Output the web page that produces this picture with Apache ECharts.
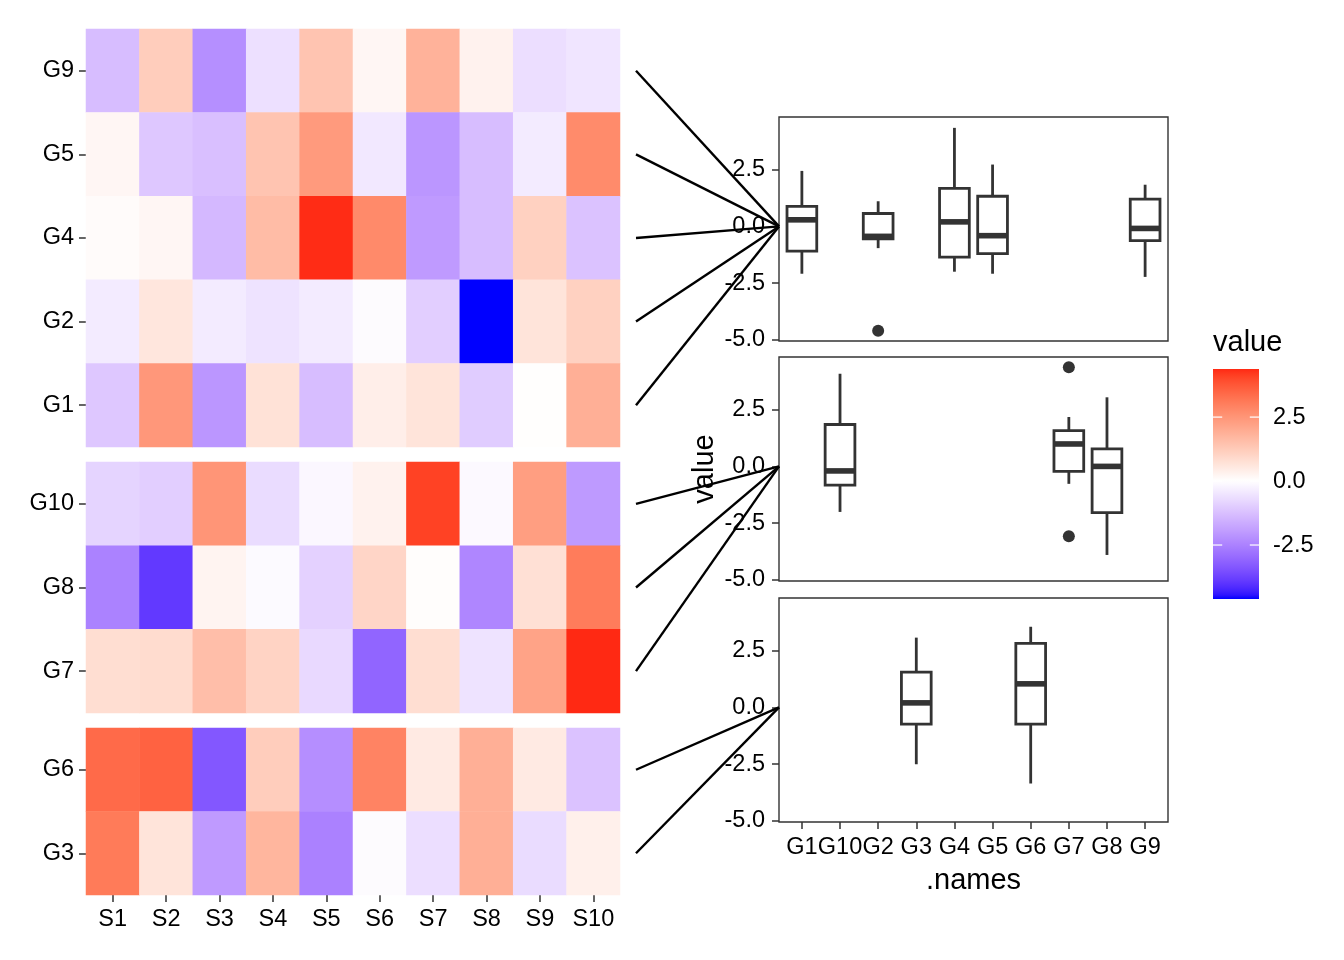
<!DOCTYPE html>
<html><head><meta charset="utf-8">
<script src="https://cdn.jsdelivr.net/npm/echarts@6/dist/echarts.min.js"></script>
<style>html,body{margin:0;padding:0;background:#fff}#c{width:1344px;height:960px}</style>
</head><body><div id="c"></div>
<script>
// ---------- data ----------
const samples = ['S1','S2','S3','S4','S5','S6','S7','S8','S9','S10'];
const group1 = ['G9','G5','G4','G2','G1'];
const group2 = ['G10','G8','G7'];
const group3 = ['G6','G3'];
const rowG9  = [-1.3, 1.2, -2.23, -0.6, 1.4, 0.2, 1.84, 0.3, -0.65, -0.5];
const rowG5  = [0.2, -1.1, -1.25, 1.4, 2.4, -0.45, -2.09, -1.3, -0.4, 2.73];
const rowG4  = [0.1, 0.2, -1.4, 1.6, 4.35, 2.75, -2.0, -1.3, 1.1, -1.2];
const rowG2  = [-0.4, 0.6, -0.4, -0.55, -0.4, -0.05, -0.96, -4.61, 0.65, 1.1];
const rowG1  = [-1.1, 2.45, -2.09, 0.7, -1.3, 0.4, 0.65, -1.0, 0.02, 1.9];
const rowG10 = [-0.85, -0.95, 2.5, -0.7, -0.15, 0.3, 4.09, -0.12, 2.3, -2.01];
const rowG8  = [-2.5, -3.91, 0.25, -0.1, -0.9, 1.0, 0.05, -2.4, 0.75, 3.05];
const rowG7  = [0.8, 0.85, 1.55, 1.05, -0.75, -3.08, 0.8, -0.55, 2.18, 4.38];
const rowG6  = [3.4, 3.56, -3.36, 1.2, -2.25, 2.9, 0.5, 1.9, 0.5, -1.2];
const rowG3  = [3.08, 0.65, -2.0, 1.75, -2.51, -0.05, -0.65, 1.9, -0.7, 0.35];

const boxNames = ['G1','G10','G2','G3','G4','G5','G6','G7','G8','G9'];
// [lower whisker, Q1, median, Q3, upper whisker]
const boxG1  = [-2.09, -1.09, 0.29, 0.88, 2.45];
const boxG2  = [-0.96, -0.55, -0.44, 0.57, 1.11];
const boxG4  = [-2.0, -1.36, 0.2, 1.68, 4.35];
const boxG5  = [-2.09, -1.2, -0.41, 1.33, 2.73];
const boxG9  = [-2.23, -0.63, -0.09, 1.2, 1.84];
const boxG10 = [-2.01, -0.83, -0.2, 1.85, 4.09];
const boxG7  = [-0.77, -0.22, 0.99, 1.58, 2.18];
const boxG8  = [-3.91, -2.04, 0.0, 0.77, 3.05];
const boxG3  = [-2.51, -0.74, 0.2, 1.56, 3.08];
const boxG6  = [-3.36, -0.74, 1.04, 2.83, 3.56];
const outliersG2 = [-4.61];
const outliersG7 = [4.38, -3.08];

const boxTicks = [-5, -2.5, 0, 2.5];
const legendTicks = [-2.5, 0, 2.5];

// ---------- lookup tables built from the arrays ----------
const rows = {G1:rowG1,G2:rowG2,G3:rowG3,G4:rowG4,G5:rowG5,G6:rowG6,G7:rowG7,G8:rowG8,G9:rowG9,G10:rowG10};
const boxes = {G1:boxG1,G2:boxG2,G3:boxG3,G4:boxG4,G5:boxG5,G6:boxG6,G7:boxG7,G8:boxG8,G9:boxG9,G10:boxG10};
const outliers = {G2:outliersG2, G7:outliersG7};
const groups = [group1, group2, group3];

const allVals = [].concat(...Object.values(rows));
const dataMin = Math.min(...allVals), dataMax = Math.max(...allVals);
const pad = 0.05 * (dataMax - dataMin);
const yMin = dataMin - pad, yMax = dataMax + pad;
const lim = Math.max(Math.abs(dataMin), Math.abs(dataMax));

// ---------- colour: diverging gradient interpolated in CIELAB ----------
function s2l(c){c/=255;return c<=0.04045?c/12.92:Math.pow((c+0.055)/1.055,2.4);}
function l2s(c){c=c<=0.0031308?12.92*c:1.055*Math.pow(c,1/2.4)-0.055;return Math.round(Math.max(0,Math.min(1,c))*255);}
function rgbToLab(rgb){
  const R=s2l(rgb[0]),G=s2l(rgb[1]),B=s2l(rgb[2]);
  const X=(0.4124564*R+0.3575761*G+0.1804375*B)/0.95047;
  const Y=(0.2126729*R+0.7151522*G+0.0721750*B);
  const Z=(0.0193339*R+0.1191920*G+0.9503041*B)/1.08883;
  const f=t=>t>0.008856?Math.cbrt(t):7.787*t+16/116;
  const fx=f(X),fy=f(Y),fz=f(Z);
  return [116*fy-16,500*(fx-fy),200*(fy-fz)];
}
function labToRgb(lab){
  const fy=(lab[0]+16)/116, fx=fy+lab[1]/500, fz=fy-lab[2]/200;
  const fi=t=>t*t*t>0.008856?t*t*t:(t-16/116)/7.787;
  const X=fi(fx)*0.95047, Y=fi(fy), Z=fi(fz)*1.08883;
  return [l2s(3.2404542*X-1.5371385*Y-0.4985314*Z),
          l2s(-0.9692660*X+1.8760108*Y+0.0415560*Z),
          l2s(0.0556434*X-0.2040259*Y+1.0572252*Z)];
}
const LOW=rgbToLab([0,0,255]), MID=rgbToLab([255,255,255]), HIGH=rgbToLab([255,0,0]);
function mix(a,b,t){return a.map((v,i)=>v+(b[i]-v)*t);}
function colourOf(v){
  const t=v/lim;
  const c=labToRgb(t<0?mix(MID,LOW,-t):mix(MID,HIGH,t));
  return 'rgb('+c[0]+','+c[1]+','+c[2]+')';
}
const NSTOP=61;
const stops=[];
for(let i=0;i<NSTOP;i++){stops.push(colourOf(dataMin+i*(dataMax-dataMin)/(NSTOP-1)));}

// ---------- layout / style ----------
const FONT='Liberation Sans, Arial, sans-serif';
const AX=23.5, TITLE=29;
const TICK={length:7,lineStyle:{color:'#333',width:1.5}};
const grids=[
  {left:86,top:29,width:534,height:418},
  {left:86,top:462,width:534,height:251},
  {left:86,top:728,width:534,height:167},
  {left:779,top:117,width:389,height:224,show:true,borderColor:'#333',borderWidth:1.4,backgroundColor:'transparent'},
  {left:779,top:357,width:389,height:224,show:true,borderColor:'#333',borderWidth:1.4,backgroundColor:'transparent'},
  {left:779,top:598,width:389,height:224,show:true,borderColor:'#333',borderWidth:1.4,backgroundColor:'transparent'},
  {left:1213,top:369,width:46,height:230}
];
const xAxes=[], yAxes=[], series=[];
groups.forEach((genes,g)=>{
  const last=g===2;
  xAxes.push({type:'category',gridIndex:g,data:samples,position:'bottom',
    axisLine:{show:false,onZero:false},
    axisTick:Object.assign({show:last,alignWithLabel:true,interval:0},TICK),
    axisLabel:{show:last,interval:0,margin:13,fontSize:AX,color:'#000',fontFamily:FONT},
    splitLine:{show:false}});
  yAxes.push({type:'category',gridIndex:g,data:genes,inverse:true,position:'left',
    axisLine:{show:false,onZero:false},
    axisTick:Object.assign({show:true,alignWithLabel:true,interval:0},TICK),
    axisLabel:{interval:0,margin:12,fontSize:AX,color:'#000',fontFamily:FONT,padding:[4,0,0,0]},
    splitLine:{show:false}});
  const data=[];
  genes.forEach((gene,r)=>rows[gene].forEach((v,c)=>data.push([c,r,v])));
  series.push({type:'heatmap',xAxisIndex:g,yAxisIndex:g,data:data,
    itemStyle:{borderWidth:0},emphasis:{disabled:true},progressive:0});
});

const BOXW=0.78;
function renderBox(params,api){
  const x=api.value(0);
  const pLo=api.coord([x,api.value(1)]), pQ1=api.coord([x,api.value(2)]),
        pMed=api.coord([x,api.value(3)]), pQ3=api.coord([x,api.value(4)]),
        pHi=api.coord([x,api.value(5)]);
  const half=api.size([BOXW,0])[0]/2, cx=pLo[0];
  const st={stroke:'#333333',lineWidth:2.8};
  return {type:'group',children:[
    {type:'line',shape:{x1:cx,y1:pHi[1],x2:cx,y2:pQ3[1]},style:st},
    {type:'line',shape:{x1:cx,y1:pQ1[1],x2:cx,y2:pLo[1]},style:st},
    {type:'rect',shape:{x:cx-half,y:pQ3[1],width:2*half,height:pQ1[1]-pQ3[1]},style:{stroke:'#333333',lineWidth:2.8,fill:'#fff'}},
    {type:'line',shape:{x1:cx-half,y1:pMed[1],x2:cx+half,y2:pMed[1]},style:{stroke:'#333333',lineWidth:5.6}}
  ]};
}
const boxIdx=boxNames.map((n,i)=>i);
groups.forEach((genes,g)=>{
  const gi=3+g, last=g===2;
  xAxes.push({type:'value',gridIndex:gi,min:-0.6,max:9.6,position:'bottom',
    axisLine:{show:false,onZero:false},splitLine:{show:false},
    axisTick:Object.assign({show:last,customValues:boxIdx},TICK),
    axisLabel:{show:last,customValues:boxIdx,margin:14,fontSize:AX,color:'#000',fontFamily:FONT,
      formatter:v=>boxNames[Math.round(v)]},
    name:last?'.names':'',nameLocation:'middle',nameGap:44,
    nameTextStyle:{fontSize:TITLE,color:'#000',fontFamily:FONT}});
  yAxes.push({type:'value',gridIndex:gi,min:yMin,max:yMax,position:'left',
    axisLine:{show:false,onZero:false},splitLine:{show:false},
    axisTick:Object.assign({show:true,customValues:boxTicks},TICK),
    axisLabel:{customValues:boxTicks,margin:14,fontSize:AX,color:'#000',fontFamily:FONT,padding:[4,0,0,0],
      formatter:v=>v.toFixed(1)},
    name:g===1?'value':'',nameLocation:'middle',nameGap:60,
    nameTextStyle:{fontSize:TITLE,color:'#000',fontFamily:FONT}});
  const bdata=genes.map(gene=>[boxNames.indexOf(gene)].concat(boxes[gene]));
  series.push({type:'custom',xAxisIndex:gi,yAxisIndex:gi,data:bdata,
    encode:{x:0,y:[1,2,3,4,5]},renderItem:renderBox,z:3});
  const odata=[];
  genes.forEach(gene=>(outliers[gene]||[]).forEach(v=>odata.push([boxNames.indexOf(gene),v])));
  series.push({type:'scatter',xAxisIndex:gi,yAxisIndex:gi,data:odata,symbol:'circle',symbolSize:12,
    itemStyle:{color:'#333333',opacity:1},emphasis:{disabled:true},z:4});
});

// legend colour bar
xAxes.push({type:'value',gridIndex:6,min:0,max:1,show:false});
yAxes.push({type:'value',gridIndex:6,min:dataMin,max:dataMax,position:'right',
  axisLine:{show:false,onZero:false},axisTick:{show:false},splitLine:{show:false},
  axisLabel:{customValues:legendTicks,margin:14,fontSize:AX,color:'#000',fontFamily:FONT,padding:[4,0,0,0],formatter:v=>v.toFixed(1)}});
series.push({type:'custom',xAxisIndex:6,yAxisIndex:6,data:[[0,0]],encode:{x:0,y:1},
  renderItem:function(params,api){
    const tl=api.coord([0,dataMax]), br=api.coord([1,dataMin]);
    const w=br[0]-tl[0];
    const grad=new echarts.graphic.LinearGradient(0,1,0,0,stops.map((c,i)=>({offset:i/(NSTOP-1),color:c})));
    const kids=[{type:'rect',shape:{x:tl[0],y:tl[1],width:w,height:br[1]-tl[1]},style:{fill:grad}}];
    legendTicks.forEach(v=>{
      const y=api.coord([0,v])[1];
      kids.push({type:'line',shape:{x1:tl[0],y1:y,x2:tl[0]+w/5,y2:y},style:{stroke:'#fff',lineWidth:1.2}});
      kids.push({type:'line',shape:{x1:br[0]-w/5,y1:y,x2:br[0],y2:y},style:{stroke:'#fff',lineWidth:1.2}});
    });
    return {type:'group',children:kids};
  }});

const option={
  animation:false,
  backgroundColor:'#fff',
  title:{text:'value',left:1213,top:328,padding:0,
    textStyle:{fontSize:TITLE,fontWeight:'normal',color:'#000',fontFamily:FONT}},
  grid:grids,xAxis:xAxes,yAxis:yAxes,
  visualMap:{type:'continuous',show:false,seriesIndex:[0,1,2],dimension:2,
    min:dataMin,max:dataMax,inRange:{color:stops}},
  series:series
};
const chart=echarts.init(document.getElementById('c'));
chart.setOption(option);

// connecting lines from heatmap rows to the zero line of each panel
const links=[];
groups.forEach((genes,g)=>{
  const pL=chart.convertToPixel({xAxisIndex:g},samples[samples.length-1]);
  const pP=chart.convertToPixel({xAxisIndex:g},samples[samples.length-2]);
  const x0=pL+(pL-pP)/2+16;
  const end=chart.convertToPixel({xAxisIndex:3+g,yAxisIndex:3+g},[-0.6,0]);
  genes.forEach(gene=>{
    const y=chart.convertToPixel({yAxisIndex:g},gene);
    links.push({type:'line',z:100,shape:{x1:x0,y1:y,x2:end[0],y2:end[1]},style:{stroke:'#000',lineWidth:2.4}});
  });
});
chart.setOption({graphic:links});
</script></body></html>
